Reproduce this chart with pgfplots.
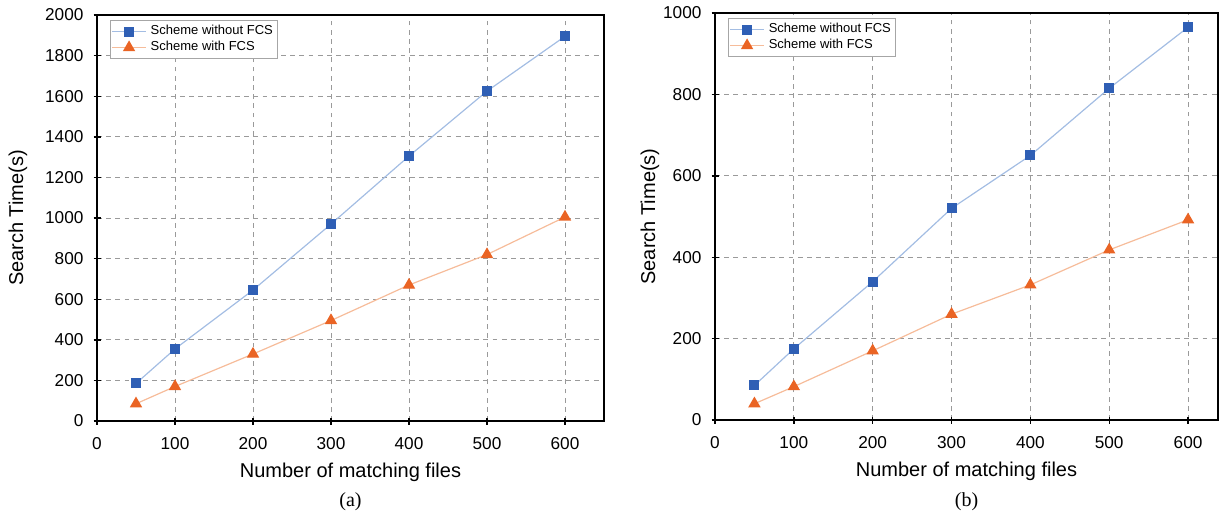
\documentclass[border=0pt]{standalone}
\usepackage{fontspec}
\setmainfont{Liberation Sans}
\newfontfamily\capfont{Liberation Serif}
\usepackage{pgfplots}
\pgfplotsset{compat=1.18}

\definecolor{bmark}{HTML}{2F5FB5}
\definecolor{bline}{HTML}{A3BDE3}
\definecolor{omark}{HTML}{EA6424}
\definecolor{oline}{HTML}{F6BC9A}
\definecolor{gridc}{HTML}{9A9A9A}

\pgfplotsset{
  fcs/.style={
    scale only axis,
    clip=false,
    axis line style={line width=0.9pt},
    xmin=0,
    xtick={0,100,...,600},
    xtick pos=bottom, ytick pos=left,
    tick align=center,
    major tick length=3.5pt,
    tick style={line width=0.7pt, black},
    grid=major,
    major grid style={gridc, dash pattern=on 2.4pt off 2.2pt, line width=0.5pt},
    /pgf/number format/assume math mode=true,
    /pgf/number format/1000 sep={},
    tick label style={font=\fontsize{8.6}{10}\selectfont},
    xticklabel style={yshift=-3pt},
    yticklabel style={xshift=-1.5pt},
    label style={font=\fontsize{9.4}{11}\selectfont},
    every axis x label/.style={at={(axis description cs:0.5,0)}, anchor=center, yshift=-25.5pt},
    xlabel={Number of matching files},
    ylabel={Search Time(s)},
    legend cell align=left,
    legend style={font=\fontsize{6.5}{7.2}\selectfont, draw=gray!70, line width=0.4pt,
      at={(axis description cs:0,1)}, anchor=north west, xshift=6.5pt, yshift=-2.5pt,
      inner sep=0.5pt, row sep=-2.2pt},
    legend image code/.code={
      \draw[mark repeat=2,mark phase=2] plot coordinates {(0cm,0cm) (0.3cm,0cm) (0.6cm,0cm)};
    },
  },
  sa/.style={bline, line width=0.6pt, mark=square*, mark size=2.2pt, mark options={bmark, draw=bmark, fill=bmark}},
  sb/.style={oline, line width=0.6pt, mark=triangle*, mark size=3pt, mark options={omark, draw=omark, fill=omark}},
}

\begin{document}
\begin{tikzpicture}
\begin{axis}[fcs,
  at={(48.5pt,-210.5pt)}, anchor=south west,
  width=253.5pt, height=203pt,
  xmax=650, ymin=0, ymax=2000,
  ytick={0,200,...,2000},
  every axis y label/.style={at={(axis description cs:0,0.5)}, rotate=90, anchor=center, yshift=39.5pt},
]
\addplot[sa] coordinates {(50,185) (100,355) (200,645) (300,970) (400,1305) (500,1625) (600,1895)};
\addlegendentry{Scheme without FCS}
\addplot[sb] coordinates {(50,85) (100,170) (200,330) (300,495) (400,670) (500,820) (600,1005)};
\addlegendentry{Scheme with FCS}
\node[font=\capfont\fontsize{10}{12}\selectfont] at (rel axis cs:0.5,0) [yshift=-40.5pt] {(a)};
\end{axis}

\begin{axis}[fcs,
  at={(357.5pt,-210pt)}, anchor=south west,
  width=251.5pt, height=203.5pt,
  xmax=638, ymin=0, ymax=1000,
  ytick={0,200,...,1000},
  every axis y label/.style={at={(axis description cs:0,0.5)}, rotate=90, anchor=center, yshift=32.5pt},
]
\addplot[sa] coordinates {(50,85) (100,175) (200,340) (300,520) (400,650) (500,815) (600,965)};
\addlegendentry{Scheme without FCS}
\addplot[sb] coordinates {(50,40) (100,82) (200,170) (300,260) (400,332) (500,418) (600,492)};
\addlegendentry{Scheme with FCS}
\node[font=\capfont\fontsize{10}{12}\selectfont] at (rel axis cs:0.5,0) [yshift=-41pt] {(b)};
\end{axis}

\pgfresetboundingbox
\path[use as bounding box] (0,0) rectangle (610.5pt,-258pt);
\end{tikzpicture}
\end{document}
